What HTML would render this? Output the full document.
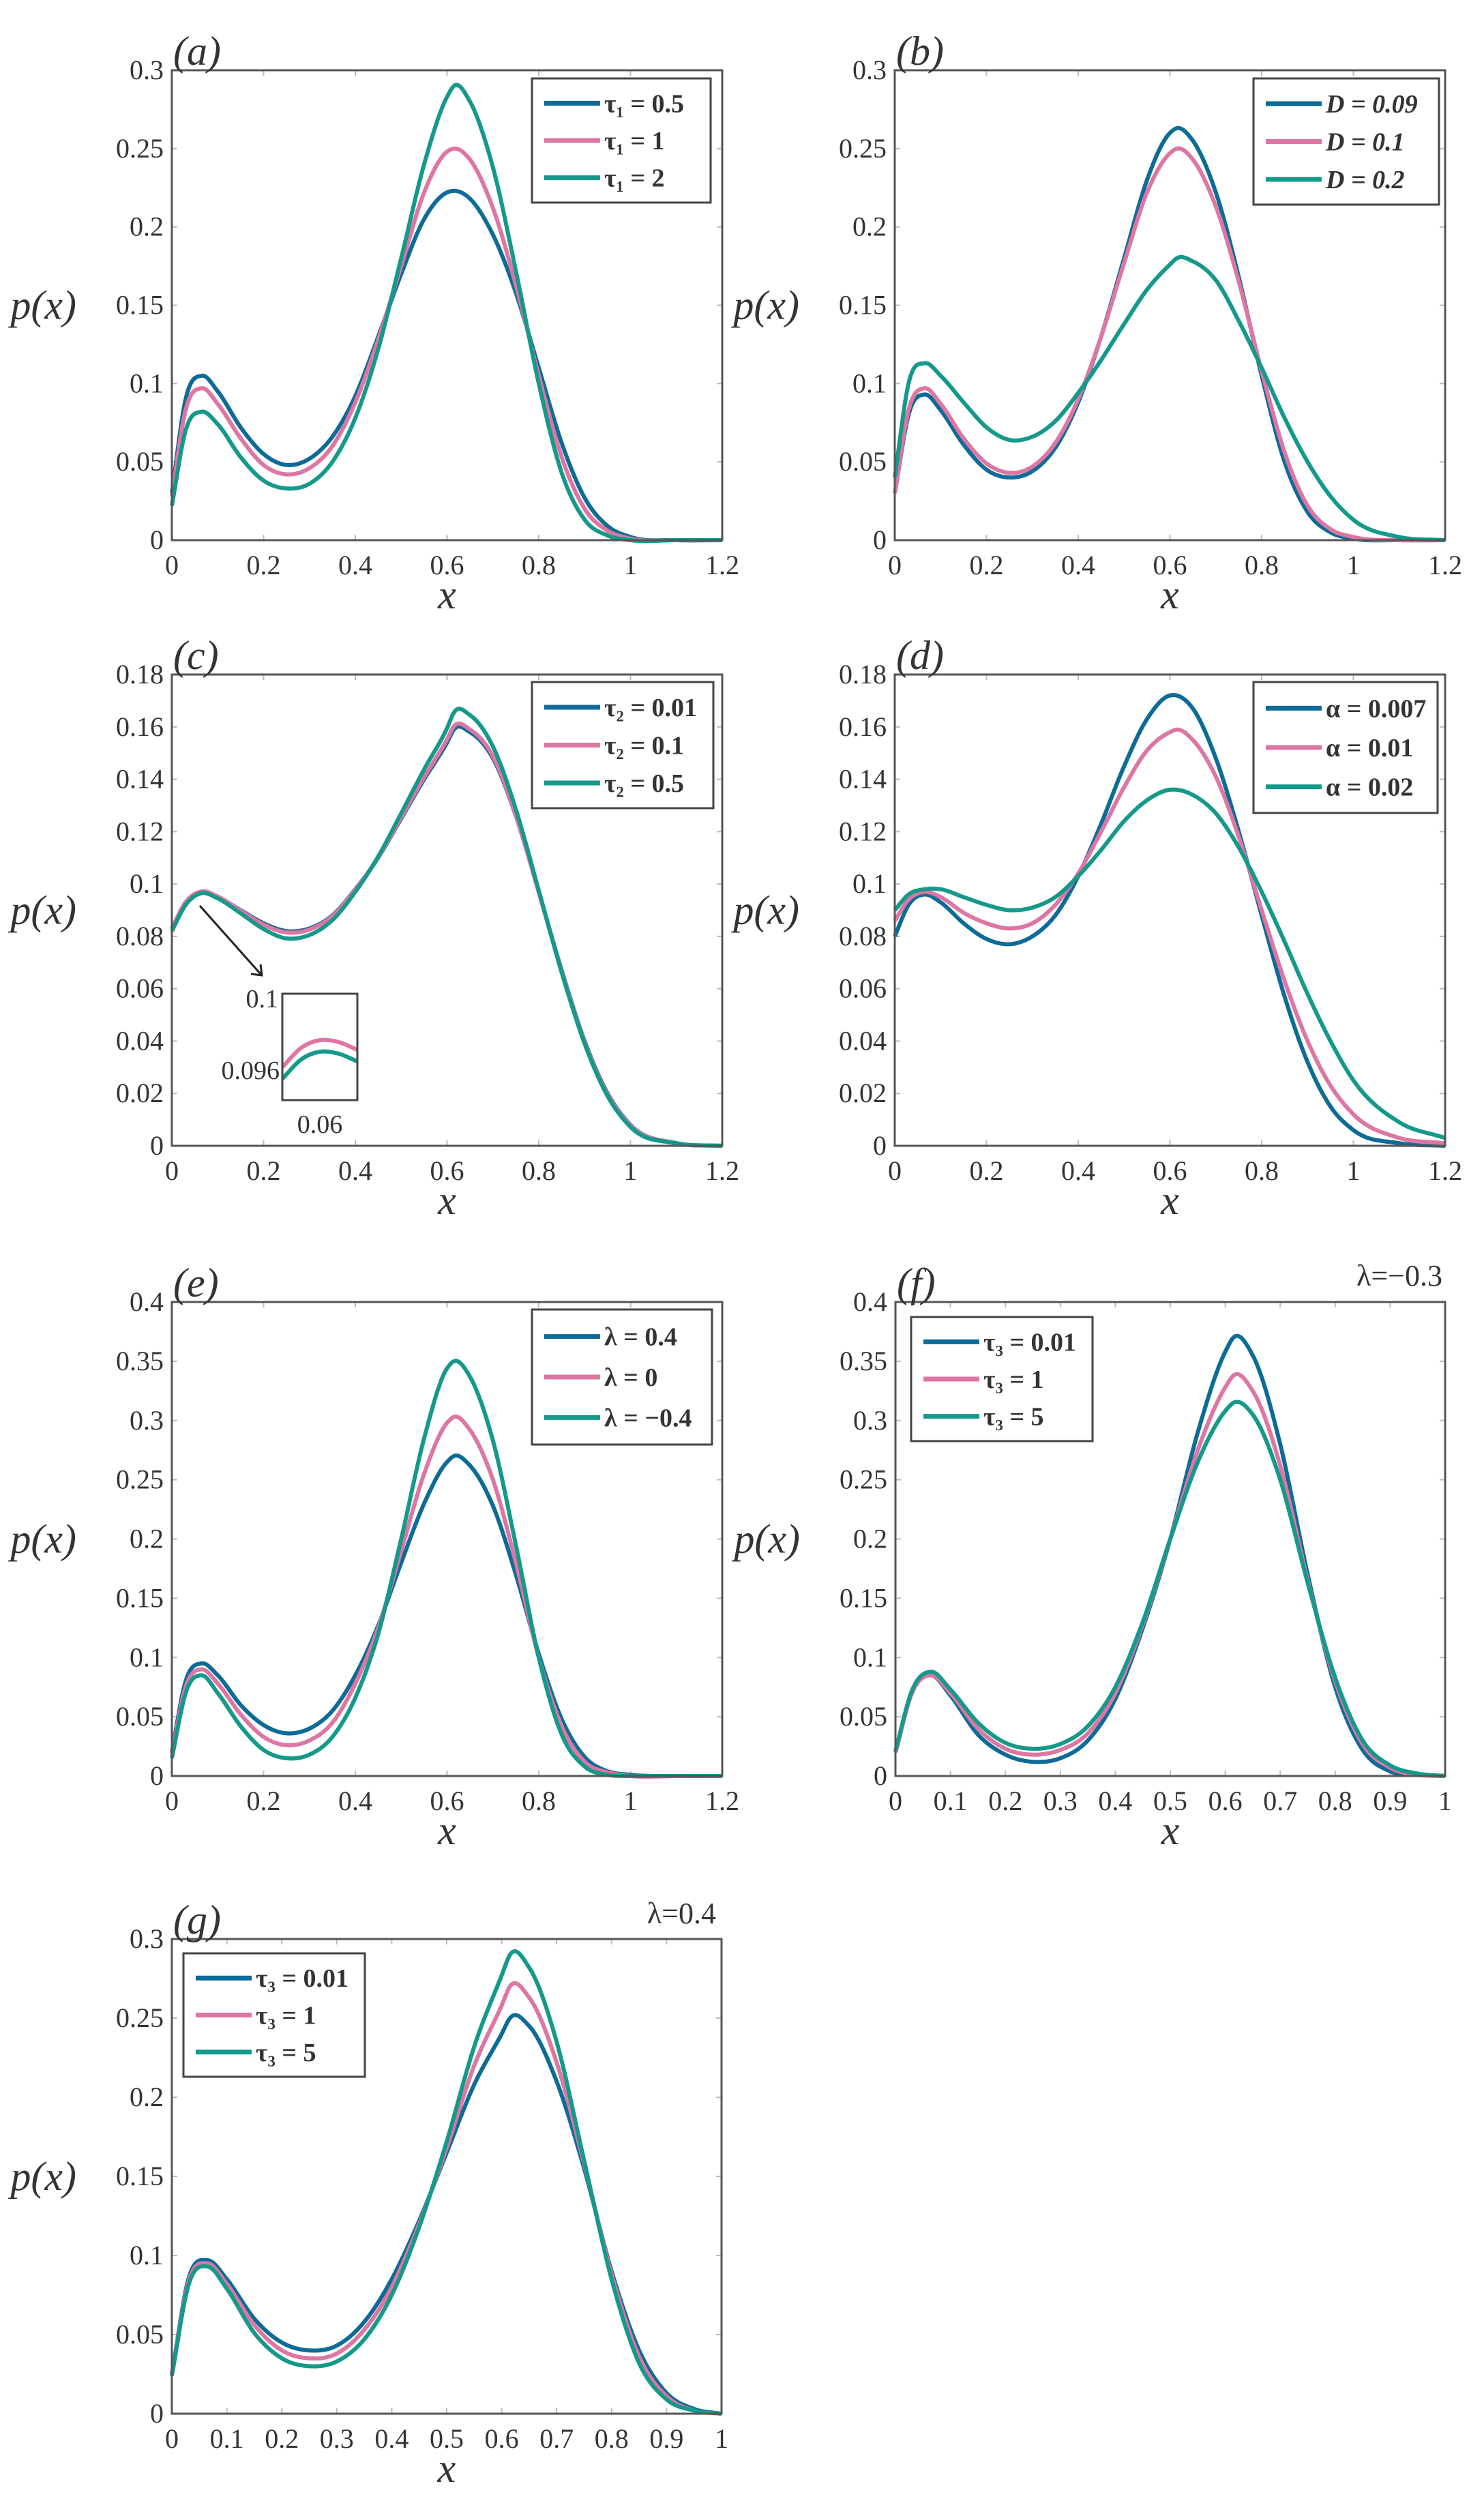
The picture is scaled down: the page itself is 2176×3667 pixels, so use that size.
<!DOCTYPE html>
<html><head><meta charset="utf-8"><style>
html,body{margin:0;padding:0;background:#fff}
svg{display:block}
text{font-family:"Liberation Serif","Times New Roman",serif;fill:#333}
</style></head><body>
<svg id="fig" width="2176" height="3667" viewBox="0 0 2176 3667" xmlns="http://www.w3.org/2000/svg" font-family="Liberation Serif, serif"></svg>
<script>
const xsWide=[0,0.03,0.065,0.1,0.15,0.2,0.25,0.3,0.35,0.4,0.45,0.5,0.55,0.6,0.615,0.65,0.7,0.75,0.8,0.85,0.9,0.95,1.0,1.1,1.2];
const xsUnit=[0,0.03,0.065,0.1,0.15,0.2,0.25,0.3,0.35,0.4,0.45,0.5,0.55,0.6,0.615,0.65,0.7,0.75,0.8,0.85,0.9,0.95,1.0];
const aBlue=[0.03,0.09,0.105,0.095,0.072,0.055,0.048,0.052,0.066,0.092,0.13,0.17,0.205,0.222,0.223,0.218,0.195,0.158,0.11,0.062,0.027,0.009,0.002,0,0];
const aPink=[0.028,0.083,0.097,0.087,0.065,0.048,0.042,0.046,0.06,0.088,0.128,0.175,0.222,0.248,0.25,0.243,0.212,0.163,0.105,0.053,0.02,0.006,0.001,0,0];
const aTeal=[0.022,0.07,0.082,0.074,0.053,0.038,0.033,0.036,0.05,0.078,0.122,0.18,0.24,0.283,0.29,0.28,0.238,0.172,0.1,0.043,0.013,0.003,0,0,0];
const bBlue=[0.03,0.08,0.093,0.083,0.061,0.045,0.04,0.044,0.059,0.088,0.13,0.18,0.23,0.26,0.263,0.255,0.222,0.168,0.105,0.05,0.018,0.005,0.001,0,0];
const bPink=[0.03,0.083,0.097,0.087,0.065,0.049,0.043,0.047,0.062,0.09,0.13,0.177,0.222,0.247,0.25,0.243,0.213,0.165,0.108,0.056,0.022,0.007,0.002,0,0];
const bTeal=[0.04,0.1,0.113,0.105,0.088,0.072,0.064,0.066,0.076,0.094,0.115,0.138,0.16,0.176,0.18,0.178,0.166,0.14,0.11,0.078,0.05,0.028,0.013,0.002,0];
const cBlue=[0.083,0.093,0.097,0.095,0.09,0.085,0.082,0.083,0.088,0.098,0.11,0.125,0.14,0.154,0.159,0.158,0.148,0.126,0.097,0.067,0.04,0.02,0.008,0.001,0];
const cPink=[0.083,0.093,0.0972,0.0952,0.0898,0.0845,0.0815,0.0826,0.0877,0.0978,0.1102,0.1255,0.1408,0.1552,0.1602,0.159,0.1488,0.1262,0.0968,0.0666,0.0396,0.0196,0.0078,0.001,0];
const cTeal=[0.082,0.092,0.0965,0.0945,0.0888,0.0828,0.0792,0.0805,0.0862,0.097,0.1105,0.127,0.1438,0.1595,0.1655,0.1645,0.1525,0.1285,0.0975,0.0662,0.039,0.019,0.0072,0.001,0];
const dBlue=[0.08,0.092,0.096,0.093,0.085,0.079,0.077,0.08,0.088,0.103,0.123,0.145,0.163,0.172,0.172,0.167,0.148,0.12,0.088,0.057,0.032,0.015,0.006,0.001,0];
const dPink=[0.086,0.094,0.097,0.095,0.089,0.085,0.083,0.085,0.092,0.104,0.12,0.137,0.151,0.158,0.159,0.155,0.141,0.118,0.09,0.063,0.04,0.023,0.012,0.003,0.001];
const dTeal=[0.09,0.096,0.098,0.098,0.095,0.092,0.09,0.091,0.095,0.103,0.113,0.124,0.132,0.136,0.136,0.134,0.127,0.114,0.097,0.078,0.058,0.04,0.025,0.009,0.003];
const eBlue=[0.02,0.08,0.095,0.085,0.06,0.043,0.036,0.04,0.055,0.085,0.127,0.18,0.23,0.265,0.27,0.262,0.228,0.17,0.103,0.048,0.016,0.004,0.001,0,0];
const ePink=[0.018,0.075,0.09,0.078,0.052,0.033,0.026,0.03,0.045,0.078,0.125,0.19,0.255,0.298,0.303,0.292,0.25,0.18,0.1,0.042,0.012,0.003,0,0,0];
const eTeal=[0.015,0.07,0.085,0.07,0.042,0.022,0.015,0.018,0.033,0.066,0.12,0.2,0.285,0.344,0.35,0.337,0.283,0.195,0.1,0.035,0.008,0.001,0,0,0];
const fBlue=[0.02,0.07,0.085,0.068,0.035,0.018,0.012,0.015,0.03,0.065,0.125,0.2,0.29,0.358,0.37,0.355,0.28,0.17,0.075,0.022,0.004,0.001,0];
const fPink=[0.02,0.07,0.085,0.07,0.04,0.023,0.018,0.022,0.036,0.07,0.128,0.2,0.275,0.328,0.338,0.325,0.262,0.165,0.08,0.027,0.007,0.001,0];
const fTeal=[0.021,0.072,0.088,0.073,0.045,0.028,0.023,0.027,0.042,0.075,0.13,0.2,0.265,0.308,0.315,0.305,0.25,0.163,0.083,0.03,0.009,0.002,0];
const gBlue=[0.025,0.085,0.097,0.085,0.06,0.045,0.04,0.043,0.058,0.085,0.122,0.165,0.208,0.24,0.25,0.245,0.21,0.155,0.09,0.04,0.013,0.003,0];
const gPink=[0.025,0.083,0.095,0.082,0.056,0.04,0.035,0.038,0.053,0.08,0.12,0.168,0.22,0.258,0.27,0.263,0.222,0.158,0.088,0.036,0.011,0.002,0];
const gTeal=[0.024,0.081,0.093,0.079,0.051,0.035,0.03,0.033,0.047,0.075,0.118,0.172,0.232,0.277,0.29,0.282,0.235,0.16,0.085,0.032,0.009,0.002,0];
const insetXs=[0.05,0.055,0.06,0.065,0.07];
const insetPink=[0.0962,0.0972,0.0976,0.0975,0.0971];
const insetTeal=[0.0956,0.0966,0.097,0.0969,0.0965];
const ticksX12=["0","0.2","0.4","0.6","0.8","1","1.2"];
const ticksX1=["0","0.1","0.2","0.3","0.4","0.5","0.6","0.7","0.8","0.9","1"];
const ticksY03=["0","0.05","0.1","0.15","0.2","0.25","0.3"];
const ticksY018=["0","0.02","0.04","0.06","0.08","0.1","0.12","0.14","0.16","0.18"];
const ticksY04=["0","0.05","0.1","0.15","0.2","0.25","0.3","0.35","0.4"];
const legA=["τ₁ = 0.5","τ₁ = 1","τ₁ = 2"];
const legB=["D = 0.09","D = 0.1","D = 0.2"];
const legC=["τ₂ = 0.01","τ₂ = 0.1","τ₂ = 0.5"];
const legD=["α = 0.007","α = 0.01","α = 0.02"];
const legE=["λ = 0.4","λ = 0","λ = −0.4"];
const legF=["τ₃ = 0.01","τ₃ = 1","τ₃ = 5"];

const COLORS=["#0d6b97","#dd76a2","#14998a"];
const NS="http://www.w3.org/2000/svg";
const svg=document.getElementById('fig');
function mk(tag,attrs,parent){const e=document.createElementNS(NS,tag);for(const k in attrs)e.setAttribute(k,attrs[k]);(parent||svg).appendChild(e);return e;}
// monotone-x cubic Hermite through screen points (non-uniform spacing safe)
function smooth(pts){
 const n=pts.length,m=new Array(n);
 for(let i=0;i<n;i++){
  if(i===0){m[i]=(pts[1][1]-pts[0][1])/(pts[1][0]-pts[0][0]);}
  else if(i===n-1){m[i]=(pts[i][1]-pts[i-1][1])/(pts[i][0]-pts[i-1][0]);}
  else{const h0=pts[i][0]-pts[i-1][0],h1=pts[i+1][0]-pts[i][0];
   const d0=(pts[i][1]-pts[i-1][1])/h0,d1=(pts[i+1][1]-pts[i][1])/h1;
   m[i]=(d0*h1+d1*h0)/(h0+h1);}
 }
 let d='M'+pts[0][0].toFixed(1)+','+pts[0][1].toFixed(1);
 for(let i=0;i<n-1;i++){const h=pts[i+1][0]-pts[i][0];
  d+=' C'+(pts[i][0]+h/3).toFixed(1)+','+(pts[i][1]+m[i]*h/3).toFixed(1)+' '+(pts[i+1][0]-h/3).toFixed(1)+','+(pts[i+1][1]-m[i+1]*h/3).toFixed(1)+' '+pts[i+1][0].toFixed(1)+','+pts[i+1][1].toFixed(1);}
 return d;}

function panel(o){
 const g=mk('g',{});
 
 
 const W=o.R-o.L,H=o.B-o.T;
 const sx=v=>o.L+(v-o.xmin)/(o.xmax-o.xmin)*W;
 const sy=v=>o.B-(v/o.ymax)*H;
 mk('rect',{x:o.L,y:o.T,width:W,height:H,fill:'#fff'},g);
 o.xt.forEach(t=>{const x=sx(parseFloat(t));
  mk('line',{x1:x,y1:o.B,x2:x,y2:o.B-8,stroke:'#bbb','stroke-width':2},g);
  mk('line',{x1:x,y1:o.T,x2:x,y2:o.T+8,stroke:'#bbb','stroke-width':2},g);
  const tx=mk('text',{x:x,y:o.B+50,'font-size':40,'text-anchor':'middle'},g);tx.textContent=t;
  
  });
 o.yt.forEach(t=>{const y=sy(parseFloat(t));
  mk('line',{x1:o.L,y1:y,x2:o.L+8,y2:y,stroke:'#bbb','stroke-width':2},g);
  mk('line',{x1:o.R,y1:y,x2:o.R-8,y2:y,stroke:'#bbb','stroke-width':2},g);
  const tx=mk('text',{x:o.L-12,y:y+13,'font-size':40,'text-anchor':'end'},g);tx.textContent=t;
  
  });
 o.series.forEach((s,i)=>{const pts=o.xs.map((x,j)=>[sx(x),sy(s[j])]);
  const p=mk('path',{d:smooth(pts),fill:'none',stroke:COLORS[i],'stroke-width':6,'stroke-linejoin':'round'},g);
  
  });
 const box=mk('rect',{x:o.L,y:o.T,width:W,height:H,fill:'none',stroke:'#555','stroke-width':3},g);
 
 
 const lg=o.leg;
 const lr=mk('rect',{x:lg.x,y:lg.y,width:lg.w,height:lg.h,fill:'#fff',stroke:'#444','stroke-width':3},g);
 
 
 o.labels.forEach((lab,i)=>{const y=lg.y+lg.h*(0.2+0.3*i);
  const ln=mk('line',{x1:lg.x+18,y1:y,x2:lg.x+100,y2:y,stroke:COLORS[i],'stroke-width':7},g);
  
  
  const t=mk('text',{x:lg.x+106,y:y+13,'font-size':38,'font-weight':'bold','font-style':o.italicLeg?'italic':'normal'},g);t.textContent=lab;
  
  });
 const pl=mk('text',{x:o.L+2,y:o.T-8,'font-size':60,'font-style':'italic'},g);pl.textContent='('+o.id+')';
 
 
 const yl=mk('text',{x:o.L-140,y:(o.T+o.B)/2+20,'font-size':60,'font-style':'italic','text-anchor':'end'},g);yl.textContent='p(x)';
 
 
 const xl=mk('text',{x:(o.L+o.R)/2,y:o.B+100,'font-size':60,'font-style':'italic','text-anchor':'middle'},g);xl.textContent='x';
 
 
 return {sx,sy,g};
}
panel({id:'a',L:252,R:1059,T:103,B:792,xmin:0,xmax:1.2,ymax:0.3,xt:ticksX12,yt:ticksY03,xs:xsWide,series:[aBlue,aPink,aTeal],labels:legA,leg:{x:780,y:115,w:262,h:182}});
panel({id:'b',L:1312,R:2119,T:103,B:792,xmin:0,xmax:1.2,ymax:0.3,xt:ticksX12,yt:ticksY03,xs:xsWide,series:[bBlue,bPink,bTeal],labels:legB,leg:{x:1838,y:115,w:272,h:185},italicLeg:true});
panel({id:'c',L:252,R:1059,T:989,B:1680,xmin:0,xmax:1.2,ymax:0.18,xt:ticksX12,yt:ticksY018,xs:xsWide,series:[cBlue,cPink,cTeal],labels:legC,leg:{x:780,y:1000,w:266,h:185}});
panel({id:'d',L:1312,R:2119,T:989,B:1680,xmin:0,xmax:1.2,ymax:0.18,xt:ticksX12,yt:ticksY018,xs:xsWide,series:[dBlue,dPink,dTeal],labels:legD,leg:{x:1838,y:1000,w:270,h:192}});
panel({id:'e',L:252,R:1059,T:1909,B:2604,xmin:0,xmax:1.2,ymax:0.4,xt:ticksX12,yt:ticksY04,xs:xsWide,series:[eBlue,ePink,eTeal],labels:legE,leg:{x:780,y:1920,w:264,h:198}});
panel({id:'f',L:1313,R:2119,T:1909,B:2604,xmin:0,xmax:1,ymax:0.4,xt:ticksX1,yt:ticksY04,xs:xsUnit,series:[fBlue,fPink,fTeal],labels:legF,leg:{x:1336,y:1931,w:266,h:182}});
panel({id:'g',L:252,R:1058,T:2843,B:3539,xmin:0,xmax:1,ymax:0.3,xt:ticksX1,yt:ticksY03,xs:xsUnit,series:[gBlue,gPink,gTeal],labels:legF,leg:{x:269,y:2864,w:266,h:181}});

let t=mk('text',{x:2115,y:1885,'font-size':44,'text-anchor':'end'});t.textContent='λ=−0.3';


t=mk('text',{x:1050,y:2820,'font-size':44,'text-anchor':'end'});t.textContent='λ=0.4';



const ins={L:414,R:524,T:1457,B:1613,xmin:0.05,xmax:0.07,ymin:0.0945,ymax:0.1};
const ix=v=>ins.L+(v-ins.xmin)/(ins.xmax-ins.xmin)*(ins.R-ins.L);
const iy=v=>ins.B-(v-ins.ymin)/(ins.ymax-ins.ymin)*(ins.B-ins.T);
const ig=mk('g',{});


mk('rect',{x:ins.L,y:ins.T,width:ins.R-ins.L,height:ins.B-ins.T,fill:'#fff'},ig);
[insetPink,insetTeal].forEach((s,i)=>{const p=mk('path',{d:smooth(insetXs.map((x,j)=>[ix(x),iy(s[j])])),fill:'none',stroke:COLORS[i+1],'stroke-width':6},ig);
 
 });
mk('rect',{x:ins.L,y:ins.T,width:ins.R-ins.L,height:ins.B-ins.T,fill:'none',stroke:'#444','stroke-width':3},ig);
t=mk('text',{x:ins.L-6,y:ins.T+20,'font-size':38,'text-anchor':'end'},ig);t.textContent='0.1';
t=mk('text',{x:ins.L-4,y:ins.T+125,'font-size':38,'text-anchor':'end'},ig);t.textContent='0.096';
t=mk('text',{x:(ins.L+ins.R)/2,y:ins.B+48,'font-size':38,'text-anchor':'middle'},ig);t.textContent='0.06';
const ar=mk('line',{x1:293,y1:1328,x2:382,y2:1428,stroke:'#222','stroke-width':3});


mk('path',{d:'M368,1428 L384,1430 L382,1414',fill:'none',stroke:'#222','stroke-width':3});
</script>
</body></html>
